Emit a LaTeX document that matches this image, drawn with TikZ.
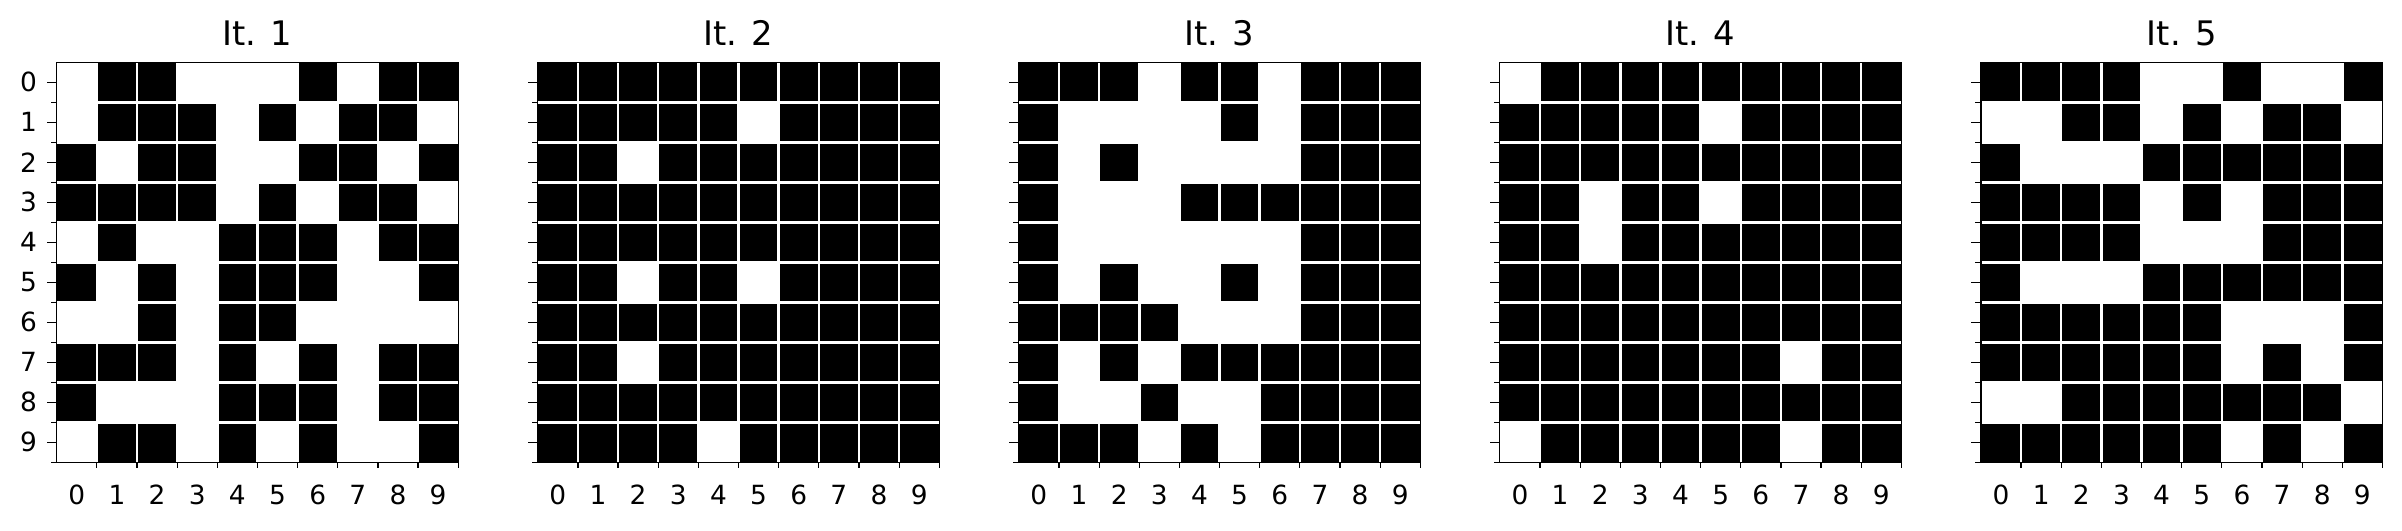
\documentclass[tikz,border=0pt]{standalone}
\usepackage{fontspec}
\setmainfont{DejaVu Sans}
\tikzset{
  cellfill/.style={fill=black},
  gridln/.style={draw=white, line width=1.25pt},
  framebox/.style={draw=black, line width=0.6pt},
  tickln/.style={draw=black, line width=0.6pt},
  ttl/.style={font=\fontsize{16.9}{20}\selectfont, inner sep=0pt, anchor=base},
  tlab/.style={font=\fontsize{13.2}{16}\selectfont, inner sep=0pt},
}
\newcommand{\gridpanel}[4]{%
 \begin{scope}[shift={({56.7+#1*481.05},62.3)}]
  \foreach \rowdata [count=\ridx from 0] in {#3} {
    \foreach \v [count=\cidx from 0] in \rowdata {
      \ifnum\v=1 \fill[cellfill] (\cidx*40.15,\ridx*40) rectangle ++(40.15,40);\fi
    }
  }
  \foreach \i in {1,...,9} {
    \draw[gridln] (\i*40.15,0) -- (\i*40.15,400);
    \draw[gridln] (0,\i*40) -- (401.5,\i*40);
  }
  \draw[framebox] (0,0) rectangle (401.5,400);
  \foreach \i in {1,...,10} {
    \draw[tickln] (\i*40.15,400) -- ++(0,6);
    \draw[tickln] (0,\i*40) -- ++(-6,0);
  }
  \foreach \i in {0,...,9} {
    \draw[tickln] (0,\i*40+20) -- ++(-10,0);
    \node[tlab, anchor=base] (xl#1-\i) at (\i*40.15+20.07,442) {\i};
  }
  \ifnum#4=1
  \foreach \i in {0,...,9} {
    \node[tlab, anchor=east] (yl#1-\i) at (-19.5,\i*40+20) {\i};
  }
  \fi
  \node[ttl] (ttl#1) at (200.75,-16.6) {#2};
 \end{scope}}
\begin{document}
\begin{tikzpicture}[x=0.5pt, y=-0.5pt]
\useasboundingbox[fill=white] (0,0) rectangle (2402,530);
\gridpanel{0}{It. 1}{
{0,1,1,0,0,0,1,0,1,1},
{0,1,1,1,0,1,0,1,1,0},
{1,0,1,1,0,0,1,1,0,1},
{1,1,1,1,0,1,0,1,1,0},
{0,1,0,0,1,1,1,0,1,1},
{1,0,1,0,1,1,1,0,0,1},
{0,0,1,0,1,1,0,0,0,0},
{1,1,1,0,1,0,1,0,1,1},
{1,0,0,0,1,1,1,0,1,1},
{0,1,1,0,1,0,1,0,0,1}}{1}
\gridpanel{1}{It. 2}{
{1,1,1,1,1,1,1,1,1,1},
{1,1,1,1,1,0,1,1,1,1},
{1,1,0,1,1,1,1,1,1,1},
{1,1,1,1,1,1,1,1,1,1},
{1,1,1,1,1,1,1,1,1,1},
{1,1,0,1,1,0,1,1,1,1},
{1,1,1,1,1,1,1,1,1,1},
{1,1,0,1,1,1,1,1,1,1},
{1,1,1,1,1,1,1,1,1,1},
{1,1,1,1,0,1,1,1,1,1}}{0}
\gridpanel{2}{It. 3}{
{1,1,1,0,1,1,0,1,1,1},
{1,0,0,0,0,1,0,1,1,1},
{1,0,1,0,0,0,0,1,1,1},
{1,0,0,0,1,1,1,1,1,1},
{1,0,0,0,0,0,0,1,1,1},
{1,0,1,0,0,1,0,1,1,1},
{1,1,1,1,0,0,0,1,1,1},
{1,0,1,0,1,1,1,1,1,1},
{1,0,0,1,0,0,1,1,1,1},
{1,1,1,0,1,0,1,1,1,1}}{0}
\gridpanel{3}{It. 4}{
{0,1,1,1,1,1,1,1,1,1},
{1,1,1,1,1,0,1,1,1,1},
{1,1,1,1,1,1,1,1,1,1},
{1,1,0,1,1,0,1,1,1,1},
{1,1,0,1,1,1,1,1,1,1},
{1,1,1,1,1,1,1,1,1,1},
{1,1,1,1,1,1,1,1,1,1},
{1,1,1,1,1,1,1,0,1,1},
{1,1,1,1,1,1,1,1,1,1},
{0,1,1,1,1,1,1,0,1,1}}{0}
\gridpanel{4}{It. 5}{
{1,1,1,1,0,0,1,0,0,1},
{0,0,1,1,0,1,0,1,1,0},
{1,0,0,0,1,1,1,1,1,1},
{1,1,1,1,0,1,0,1,1,1},
{1,1,1,1,0,0,0,1,1,1},
{1,0,0,0,1,1,1,1,1,1},
{1,1,1,1,1,1,0,0,0,1},
{1,1,1,1,1,1,0,1,0,1},
{0,0,1,1,1,1,1,1,1,0},
{1,1,1,1,1,1,0,1,0,1}}{0}
\end{tikzpicture}
\end{document}
